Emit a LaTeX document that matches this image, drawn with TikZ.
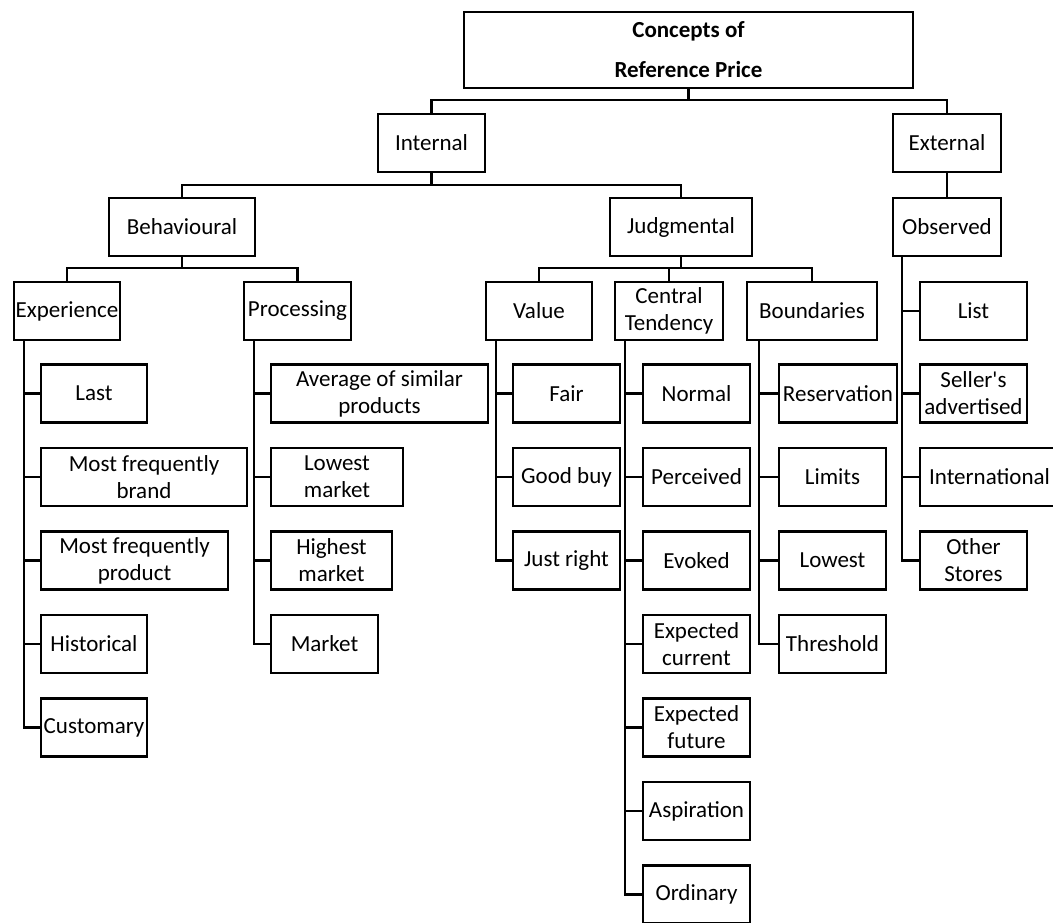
\documentclass[tikz,border=0pt]{standalone}
\usepackage{fontspec}
\setmainfont{Carlito}

\begin{document}
\begin{tikzpicture}[
  x=1pt, y=-1pt,
  every node/.style={font=\fontsize{23}{27}\selectfont},
  box/.style={draw, line width=2.3pt, align=center, inner sep=0pt, minimum height=58pt},
  link/.style={line width=2.3pt},
]

% page
\useasboundingbox (0,0) rectangle (1053,922);
\clip (0,0) rectangle (1053,922);

% root
\node[box, minimum width=449pt, minimum height=76pt,
  font=\fontsize{23}{40}\selectfont\bfseries] (root) at (688.5,50) {Concepts of\\Reference Price};

% internal / external
\node[box, minimum width=107pt] (internal) at (431.5,143) {Internal};
\node[box, minimum width=108pt] (external) at (947,143) {External};

\node[box, minimum width=146pt] (behavioural) at (182,227) {Behavioural};
\node[box, minimum width=142pt] (judgmental) at (681,227) {Judgmental};
\node[box, minimum width=108pt] (observed) at (947,227) {Observed};

\node[box, minimum width=106pt] (experience) at (67,311) {Experience};
\node[box, minimum width=107pt] (processing) at (297.5,311) {Processing};
\node[box, minimum width=106pt] (value) at (539,311) {Value};
\node[box, minimum width=108pt] (central) at (669,311) {Central\\Tendency};
\node[box, minimum width=130pt] (boundaries) at (812,311) {Boundaries};
\node[box, minimum width=107pt] (list) at (973.5,311) {List};

% experience
\node[box, minimum width=106pt] (last) at (94,393.5) {Last};
\node[box, minimum width=206pt] (mfbrand) at (144,477) {Most frequently\\brand};
\node[box, minimum width=187pt] (mfproduct) at (134.5,560.5) {Most frequently\\product};
\node[box, minimum width=106pt] (historical) at (94,644) {Historical};
\node[box, minimum width=106pt] (customary) at (94,727.5) {Customary};

% processing
\node[box, minimum width=217pt] (average) at (379.5,393.5) {Average of similar\\products};
\node[box, minimum width=132pt] (lowestmkt) at (337,477) {Lowest\\market};
\node[box, minimum width=121pt] (highestmkt) at (331.5,560.5) {Highest\\market};
\node[box, minimum width=107pt] (market) at (324.5,644) {Market};

% value
\node[box, minimum width=107pt] (fair) at (566.5,393.5) {Fair};
\node[box, minimum width=107pt] (goodbuy) at (566.5,477) {Good buy};
\node[box, minimum width=107pt] (justright) at (566.5,560.5) {Just right};

% central tendency
\node[box, minimum width=107pt] (normal) at (696.5,393.5) {Normal};
\node[box, minimum width=107pt] (perceived) at (696.5,477) {Perceived};
\node[box, minimum width=107pt] (evoked) at (696.5,560.5) {Evoked};
\node[box, minimum width=107pt] (expcurrent) at (696.5,644) {Expected\\current};
\node[box, minimum width=107pt] (expfuture) at (696.5,727.5) {Expected\\future};
\node[box, minimum width=107pt] (aspiration) at (696.5,811) {Aspiration};
\node[box, minimum width=107pt] (ordinary) at (696.5,894.5) {Ordinary};

% boundaries
\node[box, minimum width=118pt] (reservation) at (838,393.5) {Reservation};
\node[box, minimum width=107pt] (limits) at (832.5,477) {Limits};
\node[box, minimum width=107pt] (lowest) at (832.5,560.5) {Lowest};
\node[box, minimum width=107pt] (threshold) at (832.5,644) {Threshold};

% observed
\node[box, minimum width=107pt] (sellers) at (973.5,393.5) {Seller\textquotesingle s\\advertised};
\node[box, minimum width=139pt] (international) at (989.5,477) {International};
\node[box, minimum width=107pt] (otherstores) at (973.5,560.5) {Other\\Stores};

% tree links
\draw[link] (root.south) -- ++(0,11) -| (internal.north);
\draw[link] (root.south) -- ++(0,11) -| (external.north);
\draw[link] (external) -- (observed);
\draw[link] (internal.south) -- ++(0,12) -| (behavioural.north);
\draw[link] (internal.south) -- ++(0,12) -| (judgmental.north);
\draw[link] (behavioural.south) -- ++(0,11) -| (experience.north);
\draw[link] (behavioural.south) -- ++(0,11) -| (processing.north);
\draw[link] (judgmental.south) -- ++(0,11) -| (value.north);
\draw[link] (judgmental.south) -- ++(0,11) -| (central.north);
\draw[link] (judgmental.south) -- ++(0,11) -| (boundaries.north);

% trunks
\coordinate (expT) at ([xshift=11pt]experience.south west);
\coordinate (proT) at ([xshift=11pt]processing.south west);
\coordinate (valT) at ([xshift=11pt]value.south west);
\coordinate (cenT) at ([xshift=11pt]central.south west);
\coordinate (bouT) at ([xshift=13pt]boundaries.south west);
\coordinate (obsT) at ([xshift=10pt]observed.south west);

\draw[link] (expT) |- (last.west) (expT) |- (mfbrand.west) (expT) |- (mfproduct.west)
  (expT) |- (historical.west) (expT) |- (customary.west);
\draw[link] (proT) |- (average.west) (proT) |- (lowestmkt.west) (proT) |- (highestmkt.west)
  (proT) |- (market.west);
\draw[link] (valT) |- (fair.west) (valT) |- (goodbuy.west) (valT) |- (justright.west);
\draw[link] (cenT) |- (normal.west) (cenT) |- (perceived.west) (cenT) |- (evoked.west)
  (cenT) |- (expcurrent.west) (cenT) |- (expfuture.west) (cenT) |- (aspiration.west)
  (cenT) |- (ordinary.west);
\draw[link] (bouT) |- (reservation.west) (bouT) |- (limits.west) (bouT) |- (lowest.west)
  (bouT) |- (threshold.west);
\draw[link] (obsT) |- (list.west) (obsT) |- (sellers.west) (obsT) |- (international.west)
  (obsT) |- (otherstores.west);

\end{tikzpicture}
\end{document}
